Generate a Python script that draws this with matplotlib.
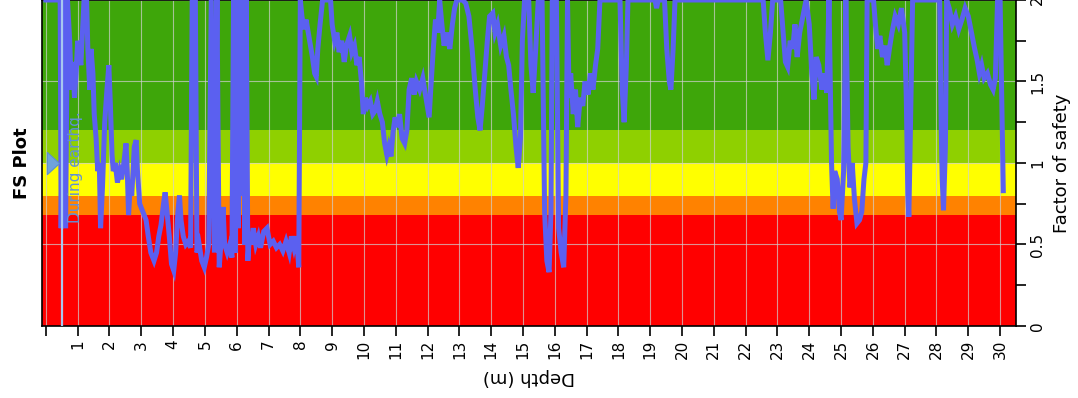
import matplotlib.pyplot as plt
import numpy as np
from matplotlib.ticker import MultipleLocator, FormatStrFormatter

# FS profile vs depth (FS capped at 2)
depth = [0.00, 0.45, 0.48, 0.55, 0.62, 0.68, 0.75, 0.80, 0.85, 0.90, 0.95, 1.00, 1.10, 1.20, 1.28,
         1.32, 1.38, 1.42, 1.48, 1.52, 1.58, 1.63, 1.68, 1.72, 1.78, 1.85, 1.92, 1.98, 2.03, 2.08,
         2.12, 2.18, 2.25, 2.32, 2.38, 2.45, 2.52, 2.56, 2.60, 2.65, 2.70, 2.78, 2.84, 2.88, 2.95,
         3.05, 3.15, 3.22, 3.30, 3.40, 3.48, 3.55, 3.62, 3.70, 3.75, 3.80, 3.88, 3.95, 4.02, 4.08,
         4.15, 4.20, 4.25, 4.32, 4.40, 4.48, 4.55, 4.60, 4.70, 4.75, 4.82, 4.90, 4.98, 5.05, 5.12,
         5.20, 5.30, 5.38, 5.45, 5.52, 5.57, 5.62, 5.70, 5.78, 5.85, 5.90, 5.95, 6.00, 6.05, 6.10,
         6.15, 6.20, 6.25, 6.30, 6.35, 6.40, 6.45, 6.52, 6.60, 6.68, 6.75, 6.85, 6.95, 7.05, 7.15,
         7.25, 7.35, 7.45, 7.55, 7.65, 7.72, 7.80, 7.88, 7.95, 8.00, 8.05, 8.12, 8.18, 8.25, 8.32,
         8.38, 8.45, 8.50, 8.55, 8.62, 8.70, 8.95, 9.00, 9.08, 9.15, 9.22, 9.30, 9.38, 9.45, 9.55,
         9.62, 9.70, 9.78, 9.85, 9.92, 9.98, 10.05, 10.12, 10.20, 10.28, 10.35, 10.42, 10.50, 10.58,
         10.65, 10.72, 10.78, 10.85, 10.92, 10.98, 11.05, 11.12, 11.20, 11.28, 11.35, 11.42, 11.50,
         11.58, 11.65, 11.75, 11.85, 11.95, 12.05, 12.10, 12.18, 12.25, 12.32, 12.38, 12.45, 12.52,
         12.60, 12.70, 12.78, 12.85, 12.92, 13.10, 13.20, 13.30, 13.40, 13.50, 13.58, 13.65, 13.72,
         13.80, 13.88, 13.95, 14.05, 14.12, 14.20, 14.30, 14.40, 14.48, 14.55, 14.62, 14.70, 14.78,
         14.85, 14.92, 14.98, 15.05, 15.18, 15.25, 15.32, 15.40, 15.48, 15.60, 15.68, 15.75, 15.82,
         15.88, 15.92, 16.05, 16.12, 16.20, 16.28, 16.35, 16.40, 16.45, 16.50, 16.58, 16.65, 16.72,
         16.80, 16.88, 16.95, 17.05, 17.12, 17.20, 17.28, 17.35, 17.42, 18.05, 18.12, 18.18, 18.25,
         18.30, 19.15, 19.20, 19.25, 19.45, 19.52, 19.60, 19.65, 19.72, 19.78, 22.55, 22.62, 22.70,
         22.78, 22.85, 23.10, 23.18, 23.25, 23.32, 23.40, 23.48, 23.55, 23.62, 23.70, 23.80, 23.90,
         24.00, 24.08, 24.15, 24.22, 24.30, 24.40, 24.48, 24.55, 24.62, 24.70, 24.75, 24.80, 24.88,
         24.95, 25.00, 25.08, 25.15, 25.22, 25.28, 25.35, 25.42, 25.50, 25.58, 25.65, 25.72, 25.78,
         25.82, 26.02, 26.08, 26.15, 26.22, 26.30, 26.38, 26.45, 26.52, 26.60, 26.70, 26.80, 26.90,
         27.00, 27.05, 27.10, 27.13, 27.18, 27.25, 28.10, 28.15, 28.18, 28.22, 28.28, 28.32, 28.40,
         28.50, 28.60, 28.70, 28.80, 28.90, 29.00, 29.10, 29.20, 29.28, 29.35, 29.42, 29.50, 29.60,
         29.70, 29.78, 29.85, 29.92, 30.00, 30.05, 30.10]
fs = [2.00, 2.00, 0.60, 2.00, 0.60, 2.00, 1.75, 1.45, 1.62, 1.40, 1.55, 1.75, 1.60, 2.00, 2.00,
      1.70, 1.45, 1.70, 1.55, 1.30, 1.15, 0.95, 1.00, 0.60, 0.85, 1.25, 1.45, 1.60, 1.35, 1.05,
      0.95, 1.00, 0.88, 0.95, 0.90, 1.00, 1.12, 0.95, 0.68, 0.85, 0.80, 1.10, 1.14, 0.95, 0.75,
      0.70, 0.65, 0.55, 0.45, 0.40, 0.45, 0.55, 0.62, 0.75, 0.82, 0.72, 0.55, 0.38, 0.34, 0.45,
      0.70, 0.80, 0.65, 0.55, 0.50, 0.52, 0.48, 2.00, 2.00, 0.45, 0.50, 0.40, 0.36, 0.42, 0.50,
      2.00, 0.45, 2.00, 0.36, 0.55, 0.73, 0.50, 0.45, 0.50, 0.42, 2.00, 0.45, 2.00, 0.60, 2.00,
      0.80, 2.00, 0.50, 2.00, 0.40, 0.55, 0.50, 0.60, 0.50, 0.55, 0.48, 0.58, 0.60, 0.50, 0.52,
      0.48, 0.50, 0.46, 0.52, 0.45, 0.55, 0.48, 0.55, 0.36, 2.00, 1.90, 1.82, 1.88, 1.80, 1.72,
      1.65, 1.55, 1.53, 1.70, 1.85, 2.00, 2.00, 1.85, 1.75, 1.80, 1.68, 1.75, 1.62, 1.72, 1.78,
      1.68, 1.72, 1.60, 1.65, 1.50, 1.30, 1.40, 1.35, 1.38, 1.30, 1.32, 1.38, 1.30, 1.25,
      1.12, 1.05, 1.10, 1.04, 1.20, 1.28, 1.22, 1.30, 1.15, 1.12, 1.20, 1.45, 1.52,
      1.42, 1.50, 1.45, 1.52, 1.40, 1.28, 1.45, 1.70, 1.88, 1.80, 2.00, 1.85, 1.72,
      1.80, 1.70, 1.85, 1.95, 2.00, 2.00, 1.98, 1.90, 1.70, 1.45, 1.28, 1.20, 1.35,
      1.55, 1.75, 1.90, 1.92, 1.80, 1.85, 1.72, 1.78, 1.65, 1.60, 1.45, 1.30, 1.10,
      0.97, 1.15, 1.75, 2.00, 2.00, 1.60, 1.43, 1.70, 2.00, 2.00, 0.70, 0.40, 0.33,
      0.70, 2.00, 2.00, 0.60, 0.45, 0.36, 0.80, 2.00, 1.40, 1.55, 1.30, 1.45, 1.22,
      1.40, 1.35, 1.50, 1.42, 1.55, 1.45, 1.60, 1.70, 2.00, 2.00, 1.45, 1.25, 1.60,
      2.00, 2.00, 1.95, 2.00, 2.00, 1.70, 1.50, 1.45, 1.70, 2.00, 2.00, 1.80, 1.63,
      1.80, 2.00, 2.00, 1.80, 1.62, 1.59, 1.75, 1.70, 1.85, 1.65, 1.80, 1.90, 2.00,
      1.85, 1.55, 1.39, 1.65, 1.60, 1.45, 1.55, 1.43, 2.00, 1.00, 0.72, 0.95, 0.90,
      0.70, 0.65, 0.95, 2.00, 1.10, 0.85, 1.00, 0.78, 0.63, 0.65, 0.70, 0.90, 1.00,
      2.00, 2.00, 1.85, 1.70, 1.78, 1.65, 1.72, 1.60, 1.70, 1.80, 1.90, 1.85, 1.95,
      1.80, 1.40, 0.80, 0.67, 1.20, 2.00, 2.00, 1.20, 0.90, 0.71, 1.10, 2.00, 1.95,
      1.85, 1.90, 1.82, 1.88, 1.95, 1.90, 1.80, 1.70, 1.63, 1.55, 1.60, 1.52, 1.55,
      1.48, 1.45, 1.52, 2.00, 2.00, 1.40, 0.83]

# safety bands: (lower, upper, colour)
band_lo = [0.0, 0.68, 0.80, 1.00, 1.20]
band_hi = [0.68, 0.80, 1.00, 1.20, 2.00]
band_col = ['#ff0000', '#ff8200', '#ffff00', '#8fd000', '#3ea60a']

gwt_depth = 0.5
depth_ticks = list(range(0, 31))
depth_labels = [''] + [str(d) for d in range(1, 31)]

fig = plt.figure(figsize=(10.78, 3.98), dpi=100)
ax = fig.add_axes([0.039, 0.181, 0.9035, 0.819])

for lo, hi, c in zip(band_lo, band_hi, band_col):
    ax.axhspan(lo, hi, color=c, zorder=0, lw=0)

ax.set_axisbelow(True)
ax.grid(True, color='#d0d0d0', lw=0.8, alpha=0.7)

ax.plot(depth, fs, color='#5b60f0', lw=3.6, solid_joinstyle='miter', zorder=3)

# water table during earthquake
ax.axvline(gwt_depth, color='#a8c8f0', lw=1.6, zorder=4)
ax.text(0.92, 0.63, 'During earthq.', rotation=90, ha='center', va='bottom',
        color='#6090d8', fontsize=11, zorder=5)
tri = [(-0.55, 1), (0.55, 0), (-0.55, -1), (-0.55, 1)]
ax.plot([0.22], [1.0], marker=tri, ms=16, color='#6fa3dc', mec='#5b8fd0',
        mew=0.8, zorder=5, clip_on=False)

ax.set_xlim(-0.12, 30.5)
ax.set_ylim(0, 2)
ax.set_xticks(depth_ticks)
ax.set_xticklabels(depth_labels)
ax.yaxis.set_major_locator(MultipleLocator(0.5))
ax.yaxis.set_minor_locator(MultipleLocator(0.25))
ax.yaxis.set_major_formatter(FormatStrFormatter('%g'))
ax.yaxis.tick_right()
ax.yaxis.set_label_position('right')
ax.tick_params(axis='x', labelrotation=90, length=7, width=1.2, labelsize=11, pad=3)
ax.tick_params(axis='y', which='both', labelrotation=90, length=7, width=1.2,
               labelsize=11, pad=3)
for lab in ax.get_yticklabels():
    lab.set_va('center')

ax.set_xlabel('Depth (m)', rotation=180, fontsize=13, labelpad=6)
ax.set_ylabel('Factor of safety', fontsize=13, labelpad=6)
for s in ax.spines.values():
    s.set_linewidth(1.2)

fig.text(0.02, 1 - 163 / 398, 'FS Plot', rotation=90, ha='center', va='center',
         fontsize=13, fontweight='bold')

fig.savefig('out.png', dpi=100)
